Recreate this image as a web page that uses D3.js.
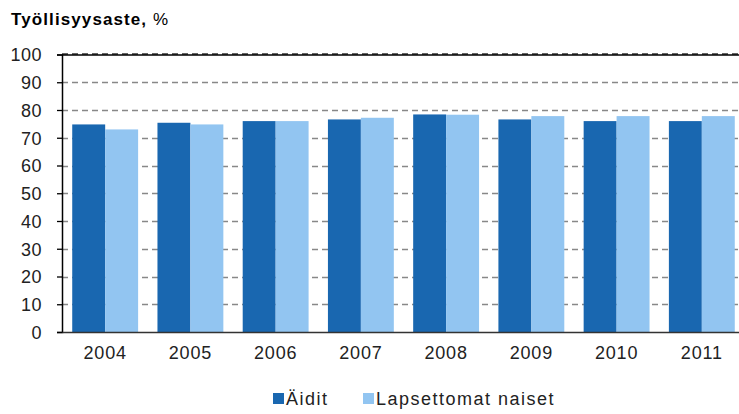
<html>
<script src='https://d3js.org/d3.v7.min.js'></script>
<style>
body { margin: 0; background: white; }
svg { font-family: 'Liberation Sans', Arial, sans-serif; }
</style>
<body>
<svg width=739 height=414></svg>
<script>
const years = ["2004", "2005", "2006", "2007", "2008", "2009", "2010", "2011"];
const aidit = [74.8, 75.4, 76.0, 76.6, 78.4, 76.6, 76.0, 76.0];
const lapsettomat = [73.0, 74.8, 76.0, 77.2, 78.3, 77.8, 77.8, 77.8];
const seriesNames = ["Äidit", "Lapsettomat naiset"];
const colors = ["#1967b0", "#92c5f1"];
const yTicks = [0, 10, 20, 30, 40, 50, 60, 70, 80, 90, 100];

const svg = d3.select("svg");

const y = d3.scaleLinear().domain([0, 100]).range([332, 54.5]);
const x = d3.scaleBand().domain(years).range([62, 745])
    .paddingInner(0.227).paddingOuter(0.12);
const xs = d3.scaleBand().domain([0, 1]).range([0, x.bandwidth()]);

// title
svg.append("text")
    .attr("x", 11).attr("y", 25)
    .style("font-size", "17px").style("font-weight", "bold")
    .style("letter-spacing", "1.1px")
    .text("Työllisyysaste, ")
    .append("tspan").style("font-weight", "normal").text("%");

// gridlines
svg.append("g").selectAll("line")
    .data(yTicks.filter(d => d > 0))
    .enter().append("line")
    .attr("x1", 62).attr("x2", 739)
    .attr("y1", d => Math.round(y(d)) - (d == 100 ? 1.5 : 0) + 0.5)
    .attr("y2", d => Math.round(y(d)) - (d == 100 ? 1.5 : 0) + 0.5)
    .attr("stroke", d => d == 100 ? "#333" : "#888")
    .attr("stroke-width", d => d == 100 ? 1.5 : 1.3)
    .attr("stroke-dasharray", "6,4");

// top frame line
svg.append("line")
    .attr("x1", 62).attr("x2", 739)
    .attr("y1", 55).attr("y2", 55)
    .attr("stroke", "#000").attr("stroke-width", 1.3);

// bars
const rows = years.map((yr, i) => ({year: yr, vals: [aidit[i], lapsettomat[i]]}));
const groups = svg.append("g").selectAll("g")
    .data(rows).enter().append("g")
    .attr("transform", d => "translate(" + x(d.year) + ",0)");
groups.selectAll("rect")
    .data(d => d.vals.map((v, k) => ({k: k, v: v})))
    .enter().append("rect")
    .attr("x", d => xs(d.k))
    .attr("y", d => y(d.v))
    .attr("width", xs.bandwidth())
    .attr("height", d => y(0) - y(d.v))
    .attr("fill", d => colors[d.k]);

// y axis
const yAxis = svg.append("g")
    .attr("transform", "translate(62,0)")
    .call(d3.axisLeft(y).tickValues(yTicks).tickSize(5).tickPadding(15));
yAxis.select(".domain").attr("stroke", "#000").attr("stroke-width", 1.5);
yAxis.selectAll(".tick line").attr("stroke", "#000").attr("stroke-width", 1.3);
yAxis.selectAll("text").style("font-size", "18px").attr("fill", "#222")
    .style("letter-spacing", "0.5px").attr("dy", "0.36em");

// x axis
const xAxis = svg.append("g")
    .attr("transform", "translate(0,332)")
    .call(d3.axisBottom(x).tickSize(0).tickPadding(14));
xAxis.select(".domain").attr("stroke", "#333").attr("stroke-width", 1.5);
xAxis.selectAll("text").style("font-size", "18px").attr("fill", "#222")
    .style("letter-spacing", "0.8px");

// legend
const legendX = [273, 363];
const legend = svg.append("g").selectAll("g")
    .data(seriesNames).enter().append("g")
    .attr("transform", (d, i) => "translate(" + legendX[i] + ",393)");
legend.append("rect").attr("width", 11).attr("height", 11)
    .attr("fill", (d, i) => colors[i]);
legend.append("text").attr("x", 13).attr("y", 12)
    .style("font-size", "18px").attr("fill", "#222")
    .style("letter-spacing", "1.5px")
    .text(d => d);
</script>
</body>
</html>
